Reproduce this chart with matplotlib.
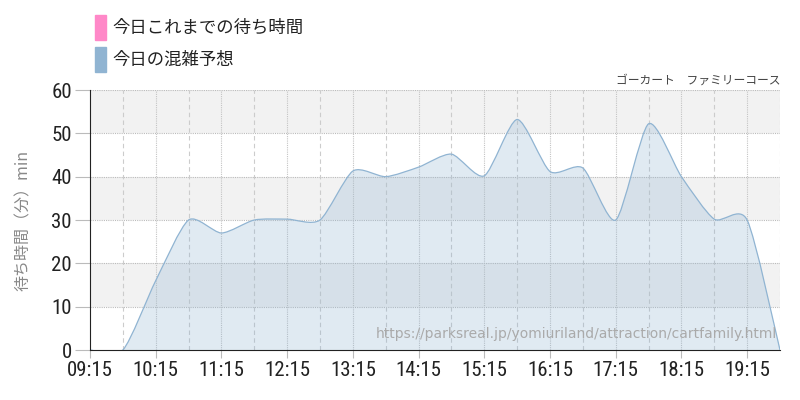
import numpy as np
import matplotlib
matplotlib.use("Agg")
import matplotlib.pyplot as plt
from matplotlib import font_manager
from matplotlib.path import Path
from matplotlib.patches import PathPatch, Rectangle

plt.rcParams['font.family'] = ['Noto Sans CJK JP', 'DejaVu Sans']

# 予想データ (30分ごと)
times = ["09:15", "09:45", "10:15", "10:45", "11:15", "11:45", "12:15", "12:45",
         "13:15", "13:45", "14:15", "14:45", "15:15", "15:45", "16:15", "16:45",
         "17:15", "17:45", "18:15", "18:45", "19:15", "19:45"]
forecast = [0, 0, 16, 30, 27, 30, 30.2, 30, 41.3, 40, 42.2, 45.2, 40.2, 53.2,
            41.2, 42, 30, 52.2, 40, 30.2, 30.0, 0]
hour_labels = ["09:15", "10:15", "11:15", "12:15", "13:15", "14:15",
               "15:15", "16:15", "17:15", "18:15", "19:15"]
legend_labels = ["今日これまでの待ち時間", "今日の混雑予想"]
legend_colors = ["#ff88c8", "#90b4d2"]


def to_hours(s):
    h, m = s.split(":")
    return int(h) + int(m) / 60


x = np.array([to_hours(t) for t in times])
y = np.array(forecast, dtype=float)

# 曲線 (張力ちょっと強め)
k = 0.12
px = np.concatenate([[x[0]], x, [x[-1]]])
py = np.concatenate([[y[0]], y, [y[-1]]])
verts = [(x[0], y[0])]
codes = [Path.MOVETO]
for i in range(1, len(px) - 2):
    c1 = (px[i] + (px[i + 1] - px[i - 1]) * k, py[i] + (py[i + 1] - py[i - 1]) * k)
    c2 = (px[i + 1] - (px[i + 2] - px[i]) * k, py[i + 1] - (py[i + 2] - py[i]) * k)
    verts += [c1, c2, (px[i + 1], py[i + 1])]
    codes += [Path.CURVE4] * 3
line_path = Path(verts, codes)
fill_path = Path(verts + [(x[-1], 0), (x[0], 0), (x[0], y[0])],
                 codes + [Path.LINETO, Path.LINETO, Path.CLOSEPOLY])

fig = plt.figure(figsize=(8, 4), dpi=100)
ax = fig.add_axes([0.1125, 0.125, 0.8625, 0.65])

for lo in [10, 30, 50]:
    ax.axhspan(lo, lo + 10, color="#f2f2f2", zorder=0, lw=0)

xmin, xmax = x[0], x[-1]
ax.set_xlim(xmin, xmax)
ax.set_ylim(0, 60)

for yy in range(10, 61, 10):
    ax.axhline(yy, color="#bbbbbb", lw=0.8, ls=(0, (1, 1)), zorder=1)
hrs = [to_hours(t) for t in hour_labels]
for xx in np.arange(xmin + 0.5, xmax + 0.01, 1.0):
    ax.axvline(xx, color="#cccccc", lw=0.8, ls=(0, (4, 3)), zorder=1)
for xx in hrs[1:]:
    ax.axvline(xx, color="#c4c4c4", lw=0.8, ls=(0, (1, 1)), zorder=1)

ax.add_patch(PathPatch(fill_path, facecolor="#90b4d2", alpha=0.28, lw=0, zorder=2))
ax.add_patch(PathPatch(line_path, facecolor="none", edgecolor="#90b4d2", lw=0.9, zorder=3))

ax.set_xticks(hrs)
ax.set_xticklabels(hour_labels)
ax.set_yticks(range(0, 61, 10))

# 細いフォントがあれば使う
names = {f.name for f in font_manager.fontManager.ttflist}
tick_font = [n for n in ['Roboto Condensed', 'DejaVu Sans Condensed',
                         'Liberation Sans Narrow', 'Archivo Narrow']
             if n in names] + ['DejaVu Sans']

for lab in ax.get_xticklabels() + ax.get_yticklabels():
    lab.set_family(tick_font)
    lab.set_fontsize(15)
    lab.set_color("#222222")
ax.tick_params(axis="y", length=11, color="#bbbbbb", pad=2)
ax.tick_params(axis="x", length=6, color="#bbbbbb", pad=2)

for s in ["top", "right"]:
    ax.spines[s].set_visible(False)
ax.spines["left"].set_color("#222222")
ax.spines["bottom"].set_color("#222222")
ax.spines["left"].set_zorder(4)
ax.spines["bottom"].set_zorder(4)

ax.set_ylabel("待ち時間（分）min", fontsize=11.5, color="#888888", labelpad=14)

ax.text(1.0, 1.012, "ゴーカート　ファミリーコース", transform=ax.transAxes,
        ha="right", va="bottom", fontsize=8.5, color="#444444")
ax.text(0.995, 0.035, "https://parksreal.jp/yomiuriland/attraction/cartfamily.html",
        transform=ax.transAxes, ha="right", va="bottom", fontsize=10,
        color="#aaaaaa", family=["DejaVu Sans"], zorder=5)

for i, (lab, col) in enumerate(zip(legend_labels, legend_colors)):
    yy = 0.93 - i * 0.08
    fig.patches.append(Rectangle((95 / 800, yy - 0.03), 11 / 800, 0.063,
                                 transform=fig.transFigure, color=col))
    fig.text(112 / 800, yy, lab, fontsize=12.5, color="#222222", va="center")

fig.savefig("out.png")
